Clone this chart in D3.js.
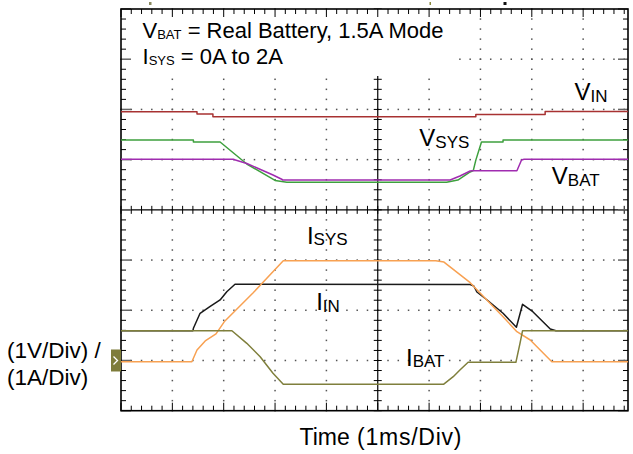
<!DOCTYPE html>
<html><head><meta charset="utf-8">
<script src="https://cdn.jsdelivr.net/npm/d3@7"></script>
<style>
html,body{margin:0;padding:0;background:#fff;}
svg{display:block;}
text{font-family:"Liberation Sans",Arial,Helvetica,sans-serif;fill:#000;}
</style></head>
<body><svg id="c" width="633" height="454"></svg>
<script>
// ---- data: time in ms (0 = screen centre), value in divisions from screen centre ----
const timeDivs = [-5, 5];          // 10 horizontal divisions, 1 ms/div
const valueDivs = [-4, 4];         // 8 vertical divisions
const VIN  = [[-5,1.955],[-3.52,1.955],[-3.52,1.909],[-3.21,1.909],[-3.21,1.855],[1.91,1.855],[1.91,1.899],[3.26,1.899],[3.26,1.959],[5,1.959]];
const VSYS = [[-5,1.39],[-3.59,1.39],[-3.59,1.351],[-3.07,1.351],[-2.55,0.913],[-2.0,0.585],[-1.77,0.549],[1.34,0.549],[1.56,0.594],[1.80,0.754],[1.86,0.78],[1.91,0.99],[2.02,1.351],[2.44,1.351],[2.44,1.39],[5,1.39]];
const VBAT = [[-5,1.006],[-2.82,1.006],[-2.55,0.923],[-2.04,0.694],[-1.86,0.604],[-1.86,0.594],[1.41,0.594],[1.60,0.674],[1.80,0.774],[1.84,0.78],[2.71,0.78],[2.80,0.993],[2.85,1.006],[5,1.006]];
const ISYS = [[-5,-3.024],[-3.62,-3.024],[-3.52,-2.79],[-3.36,-2.61],[-3.15,-2.47],[-2.99,-2.23],[-2.43,-1.656],[-1.84,-1.013],[1.13,-1.013],[1.29,-1.04],[1.80,-1.451],[2.44,-2.128],[2.71,-2.427],[2.97,-2.592],[3.39,-3.024],[5,-3.024]];
const IIN  = [[-5,-2.407],[-3.60,-2.407],[-3.59,-2.359],[-3.46,-2.06],[-3.27,-1.929],[-3.07,-1.795],[-2.94,-1.63],[-2.78,-1.483],[1.80,-1.487],[1.87,-1.517],[1.93,-1.636],[2.13,-1.795],[2.44,-2.06],[2.70,-2.339],[2.82,-1.881],[3.02,-2.028],[3.36,-2.373],[3.47,-2.407],[5,-2.407]];
const IBAT = [[-5,-2.407],[-2.84,-2.407],[-2.55,-2.658],[-2.29,-2.925],[-2.04,-3.255],[-1.84,-3.474],[1.28,-3.474],[1.47,-3.323],[1.60,-3.19],[1.76,-3.036],[2.69,-3.036],[2.77,-2.658],[2.82,-2.407],[5,-2.407]];
const channelMarkerDiv = -3;       // ground marker of the current channel
const titleLines = [["V","BAT"," = Real Battery, 1.5A Mode"],["I","SYS"," = 0A to 2A"]];
const traceLabels = [
  {main:"V",sub:"IN",t:3.83,v:2.18},
  {main:"V",sub:"SYS",t:0.81,v:1.27},
  {main:"V",sub:"BAT",t:3.39,v:0.51},
  {main:"I",sub:"SYS",t:-1.38,v:-0.68},
  {main:"I",sub:"IN",t:-1.2,v:-2.0},
  {main:"I",sub:"BAT",t:0.55,v:-3.1}
];
const yAxisLabel = ["(1V/Div) /","(1A/Div)"];
const xAxisLabel = ["Time","(1ms/Div)"];

// ---- scales ----
const svg = d3.select("#c");
const x = d3.scaleLinear().domain(timeDivs).range([121, 634.5]);
const y = d3.scaleLinear().domain(valueDivs).range([410.7, 9]);
const pR = 628, pL = x(-5), pT = y(4), pB = y(-4);
const cx = x(0), cy = y(0);

svg.append("defs").append("clipPath").attr("id","clip")
  .append("rect").attr("x",pL).attr("y",pT).attr("width",pR-pL).attr("height",pB-pT);

const minorX = d3.range(-5, 5.0001, 0.2).map(v=>+v.toFixed(2)).filter(v=>x(v)<=pR+0.5);
const minorY = d3.range(-4, 4.0001, 0.2).map(v=>+v.toFixed(2));
const majorX = d3.range(-4, 5, 1).filter(v=>v!==0 && x(v)<pR);
const majorY = d3.range(-3, 4, 1).filter(v=>v!==0);

const g = svg.append("g");
// dotted grid
const dots = [];
majorX.forEach(mx=>minorY.forEach(my=>dots.push([x(mx),y(my)])));
majorY.forEach(my=>minorX.forEach(mx=>dots.push([x(mx),y(my)])));
g.selectAll("rect.dot").data(dots).join("rect").attr("class","dot")
  .attr("x",d=>d[0]-0.75).attr("y",d=>d[1]-0.75).attr("width",1.5).attr("height",1.5).attr("fill","#555");
// centre axes
g.append("line").attr("x1",pL).attr("x2",pR).attr("y1",cy).attr("y2",cy).attr("stroke","#000").attr("stroke-width",1.2);
g.append("line").attr("x1",cx).attr("x2",cx).attr("y1",pT).attr("y2",pB).attr("stroke","#000").attr("stroke-width",1.2);
g.selectAll("line.cxt").data(minorX).join("line").attr("class","cxt")
  .attr("x1",d=>x(d)).attr("x2",d=>x(d)).attr("y1",cy-4).attr("y2",cy+4).attr("stroke","#000").attr("stroke-width",1);
g.selectAll("line.cyt").data(minorY).join("line").attr("class","cyt")
  .attr("y1",d=>y(d)).attr("y2",d=>y(d)).attr("x1",cx-4).attr("x2",cx+4).attr("stroke","#000").attr("stroke-width",1);

// white title box
g.append("rect").attr("x",pL).attr("y",pT).attr("width",452-pL).attr("height",76-pT).attr("fill","#fff");

// border ticks
const bt = svg.append("g").attr("stroke","#000").attr("stroke-width",1);
minorX.forEach(v=>{
  const L = (Math.abs(v-Math.round(v))<1e-6) ? 8 : 5;
  bt.append("line").attr("x1",x(v)).attr("x2",x(v)).attr("y1",pT).attr("y2",pT+L);
  bt.append("line").attr("x1",x(v)).attr("x2",x(v)).attr("y1",pB).attr("y2",pB-L);
});
minorY.forEach(v=>{
  const maj = Math.abs(v-Math.round(v))<1e-6;
  bt.append("line").attr("y1",y(v)).attr("y2",y(v)).attr("x1",pL).attr("x2",pL+(maj?10:5)).attr("stroke",maj?"#666":"#000").attr("stroke-width",maj?1.5:1);
  bt.append("line").attr("y1",y(v)).attr("y2",y(v)).attr("x1",pR).attr("x2",pR-(maj?10:5)).attr("stroke",maj?"#666":"#000").attr("stroke-width",maj?1.5:1);
});
svg.append("rect").attr("x",pL).attr("y",pT).attr("width",pR-pL).attr("height",pB-pT)
  .attr("fill","none").attr("stroke","#000").attr("stroke-width",1.6);

// traces
const line = d3.line().x(d=>x(d[0])).y(d=>y(d[1]));
const tr = svg.append("g").attr("clip-path","url(#clip)").attr("fill","none").attr("stroke-width",1.5).attr("stroke-linejoin","round");
[[IIN,"#1a1a1a"],[VIN,"#a83232"],[VSYS,"#3ea03e"],[VBAT,"#a02cb0"],[ISYS,"#f8a152"],[IBAT,"#7f7f3c"]]
  .forEach(([d,c])=>tr.append("path").datum(d).attr("d",line).attr("stroke",c));

// channel marker
const mky = y(channelMarkerDiv);
svg.append("rect").attr("x",111).attr("y",mky-11).attr("width",10).attr("height",22).attr("fill","#7e7c3a");
svg.append("path").attr("d",`M113.5,${mky-4} L117.5,${mky} L113.5,${mky+4}`).attr("fill","none").attr("stroke","#fff").attr("stroke-width",1.3);
// small top markers
svg.append("rect").attr("x",149).attr("y",2).attr("width",2.5).attr("height",3).attr("fill","#8a8a60");
svg.append("rect").attr("x",429.5).attr("y",2).attr("width",1.5).attr("height",3).attr("fill","#8a8a40");
svg.append("rect").attr("x",503.5).attr("y",2).attr("width",3).attr("height",3).attr("fill","#111");

// title
titleLines.forEach((l,i)=>{
  const t = svg.append("text").attr("x",142.5).attr("y",38+i*26).attr("font-size",22);
  t.append("tspan").text(l[0]);
  t.append("tspan").attr("font-size",13).attr("dy",1).text(l[1]);
  t.append("tspan").attr("dy",-1).text(l[2]);
});
// trace labels
traceLabels.forEach(l=>{
  const t = svg.append("text").attr("x",x(l.t)).attr("y",y(l.v)).attr("font-size",24);
  t.append("tspan").text(l.main);
  t.append("tspan").attr("font-size",17).attr("dy",1.5).text(l.sub);
});
// axis labels
yAxisLabel.forEach((s,i)=>svg.append("text").attr("x",7).attr("y",358+i*26.7).attr("font-size",22.5).text(s));
const xt = svg.append("text").attr("x",299.5).attr("y",445).attr("font-size",23);
xt.append("tspan").text(xAxisLabel[0]);
xt.append("tspan").attr("x",357).attr("textLength",104.5).attr("lengthAdjust","spacing").text(xAxisLabel[1]);
</script></body></html>
